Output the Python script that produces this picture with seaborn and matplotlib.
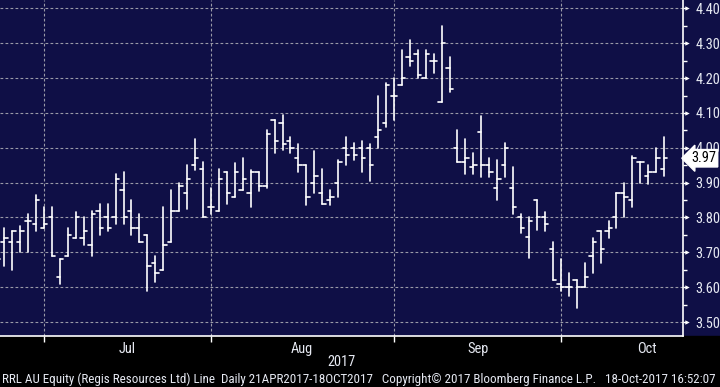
import numpy as np
import pandas as pd
import matplotlib
matplotlib.use("Agg")
import matplotlib.pyplot as plt
import matplotlib.transforms as mtransforms
from matplotlib import font_manager as fm
from matplotlib.patches import Rectangle
import seaborn as sns

# Bloomberg-like dark style
sns.set_theme(style="dark")

# pick a narrow font if one is installed
installed = {f.name for f in fm.fontManager.ttflist}
narrow = [n for n in ["Liberation Sans Narrow", "Roboto Condensed", "Open Sans Condensed",
                      "DejaVu Sans Condensed", "Arial Narrow"] if n in installed]
condensed_dejavu = any(f.name == "DejaVu Sans" and f.stretch in ("condensed", "semi-condensed")
                       for f in fm.fontManager.ttflist)
if narrow:
    plt.rcParams['font.family'] = [narrow[0], 'DejaVu Sans']
else:
    plt.rcParams['font.family'] = ['DejaVu Sans']
    if condensed_dejavu:
        plt.rcParams['font.stretch'] = 'condensed'

navy = "#0f0f46"
text_col = "#e6e9f2"
grid_col = "#9a9aa8"

# --- Data: daily OHLC bars (bar index 0 = last days of June 2017) ---
bar_idx = list(range(85))
opens = [3.69, 3.73, 3.73, 3.73, 3.79, 3.78, 3.77, 3.80, 3.63, 3.69,
         3.74, 3.74, 3.72, 3.82, 3.80, 3.80, 3.88, 3.82, 3.77, 3.75,
         3.67, 3.65, 3.73, 3.82, 3.87, 3.95, 3.94, 3.83, 3.82, 3.93,
         3.86, 3.88, 3.87, 3.93, 3.89, 4.08, 4.07, 4.02, 3.97, 3.95,
         3.90, 3.87, 3.85, 3.90, 4.00, 4.00, 4.00, 4.00, 4.03, 4.07,
         4.15, 4.18, 4.26, 4.27, 4.20, 4.25, 4.13, 4.23, 4.00, 3.96,
         3.945, 4.045, 3.95, 3.885, 3.95, 3.885, 3.80, 3.745, 3.85, 3.80,
         3.71, 3.61, 3.60, 3.62, 3.60, 3.69, 3.76, 3.76, 3.80, 3.87,
         3.85, 3.96, 3.92, 3.93, 3.94]
highs = [3.70, 3.77, 3.76, 3.775, 3.81, 3.865, 3.83, 3.83, 3.68, 3.77,
         3.815, 3.80, 3.82, 3.84, 3.84, 3.925, 3.93, 3.85, 3.81, 3.75,
         3.69, 3.83, 3.88, 3.90, 3.95, 4.025, 3.96, 3.885, 3.94, 3.93,
         3.955, 3.97, 3.935, 3.93, 4.05, 4.08, 4.095, 4.03, 4.01, 3.95,
         3.99, 3.94, 3.88, 3.965, 4.03, 4.015, 4.02, 4.01, 4.15, 4.185,
         4.20, 4.28, 4.31, 4.28, 4.28, 4.27, 4.35, 4.26, 4.05, 4.025,
         3.985, 4.09, 3.97, 3.965, 4.015, 3.945, 3.81, 3.80, 3.85, 3.815,
         3.73, 3.68, 3.64, 3.62, 3.67, 3.74, 3.76, 3.79, 3.87, 3.90,
         3.975, 3.96, 3.95, 4.00, 4.03]
lows = [3.66, 3.66, 3.65, 3.70, 3.70, 3.76, 3.77, 3.69, 3.61, 3.69,
        3.74, 3.72, 3.69, 3.75, 3.76, 3.78, 3.78, 3.75, 3.73, 3.59,
        3.615, 3.65, 3.73, 3.82, 3.825, 3.935, 3.80, 3.81, 3.82, 3.84,
        3.86, 3.88, 3.83, 3.875, 3.885, 3.985, 3.995, 3.985, 3.93, 3.835,
        3.87, 3.84, 3.835, 3.86, 3.95, 3.965, 3.93, 3.905, 4.00, 4.06,
        4.08, 4.18, 4.235, 4.20, 4.20, 4.215, 4.13, 4.16, 3.96, 3.925,
        3.925, 3.915, 3.915, 3.85, 3.915, 3.81, 3.755, 3.685, 3.765, 3.76,
        3.62, 3.59, 3.575, 3.54, 3.60, 3.64, 3.67, 3.74, 3.77, 3.80,
        3.83, 3.90, 3.895, 3.93, 3.92]
closes = [3.68, 3.74, 3.76, 3.76, 3.79, 3.85, 3.78, 3.69, 3.68, 3.75,
          3.80, 3.76, 3.81, 3.77, 3.77, 3.91, 3.80, 3.77, 3.73, 3.66,
          3.64, 3.72, 3.82, 3.89, 3.91, 3.97, 3.80, 3.83, 3.91, 3.87,
          3.93, 3.91, 3.93, 3.89, 4.04, 4.02, 4.01, 4.00, 3.95, 3.86,
          3.92, 3.84, 3.86, 3.96, 3.98, 3.98, 3.97, 3.95, 4.05, 4.18,
          4.15, 4.20, 4.25, 4.21, 4.27, 4.25, 4.30, 4.17, 3.96, 3.97,
          3.95, 3.95, 3.93, 3.91, 4.00, 3.83, 3.77, 3.79, 3.80, 3.78,
          3.62, 3.60, 3.60, 3.60, 3.63, 3.73, 3.71, 3.77, 3.87, 3.86,
          3.97, 3.96, 3.93, 3.97, 3.97]

month_labels = ["Jul", "Aug", "Sep", "Oct"]
month_start_bars = [6, 27, 50, 71]
month_label_pos = [16.4, 38.4, 60.6, 81.8]
price_ticks = [3.50, 3.60, 3.70, 3.80, 3.90, 4.00, 4.10, 4.20, 4.30, 4.40]
last_price = 3.97
year_label = "2017"
footer = ("RRL AU Equity (Regis Resources Ltd) Line  Daily 21APR2017-18OCT2017   "
          "Copyright\u00a9 2017 Bloomberg Finance L.P.   18-Oct-2017 16:52:07")

# Build OHLC segments (high-low line, open tick left, close tick right)
tick_w = 0.42
rows = []
for i, o, h, l, c in zip(bar_idx, opens, highs, lows, closes):
    rows += [(f"{i}hl", i, l), (f"{i}hl", i, h),
             (f"{i}o", i - tick_w, o), (f"{i}o", i, o),
             (f"{i}c", i, c), (f"{i}c", i + tick_w, c)]
seg = pd.DataFrame(rows, columns=["seg", "x", "price"])

W, H = 720, 387
fig = plt.figure(figsize=(W / 100, H / 100), dpi=100)
fig.patch.set_facecolor(navy)
fig.add_artist(Rectangle((0, 0), 1, 51 / H, transform=fig.transFigure,
                         color="black", zorder=-1))

# font size so that a price label is about 25 px wide (as on the terminal)
probe = fig.text(0, 0, "4.40", fontsize=10)
fig.canvas.draw()
lab_fs = min(10.5, 10 * 25 / probe.get_window_extent().width)
probe.remove()

ax = fig.add_axes([0, 51 / H, 683 / W, 336 / H])
ax.set_facecolor(navy)

sns.lineplot(data=seg, x="x", y="price", units="seg", estimator=None,
             sort=False, color="white", lw=1.2, ax=ax, legend=False)

ax.set_xlim(0.46, 86.37)
ax.set_ylim(3.46, 4.424)
ax.set_xlabel("")
ax.set_ylabel("")

# spines
for s in ["top", "left"]:
    ax.spines[s].set_visible(False)
for s in ["right", "bottom"]:
    ax.spines[s].set_visible(True)
    ax.spines[s].set_color("white")
    ax.spines[s].set_linewidth(1.2)

# y axis on the right
ax.yaxis.tick_right()
ax.set_yticks(price_ticks)
ax.set_yticklabels([f"{v:.2f}" for v in price_ticks])
minor_y = [(a + b) / 2 for a, b in zip(price_ticks[:-1], price_ticks[1:])]
ax.set_yticks(minor_y, minor=True)
ax.tick_params(axis="y", which="major", right=True, left=False, length=3,
               width=1, color="white", labelcolor=text_col, labelsize=lab_fs, pad=6)
ax.tick_params(axis="y", which="minor", right=True, left=False, length=3,
               width=1, color="white")

# triangle markers on the major ticks
trans = mtransforms.blended_transform_factory(ax.transAxes, ax.transData)
ax.scatter([1 + 4 / 683] * len(price_ticks), price_ticks, transform=trans,
           marker=">", s=10, color="white", clip_on=False, zorder=5, linewidths=0)

# x axis: month boundaries as major ticks, month names as minor labels
ax.set_xticks(month_start_bars)
ax.set_xticklabels([""] * len(month_start_bars))
ax.set_xticks(month_label_pos, minor=True)
ax.set_xticklabels(month_labels, minor=True)
ax.tick_params(axis="x", which="major", bottom=True, length=4, width=1,
               color="white")
ax.tick_params(axis="x", which="minor", bottom=True, length=0,
               labelcolor=text_col, labelsize=lab_fs, pad=4)

# dashed grid
ax.grid(False)
ax.yaxis.grid(True, which="major", color=grid_col, ls=(0, (2.5, 2.0)), lw=0.8)
ax.xaxis.grid(True, which="major", color=grid_col, ls=(0, (2.5, 2.0)), lw=0.8)
ax.set_axisbelow(True)

# last price flag
ax.text(1 + 8 / 683, last_price, f"{last_price:.2f}", transform=trans,
        ha="left", va="center", color="black", fontsize=lab_fs, clip_on=False,
        bbox=dict(boxstyle="larrow,pad=0.12", fc="white", ec="white"))

fig.text(341 / W, 1 - 362 / H, year_label, ha="center", va="center",
         color=text_col, fontsize=lab_fs)
ft = fig.text(2 / W, 1 - 379 / H, footer, ha="left", va="center",
              color=text_col, fontsize=9)

# fit footer to the figure width
fig.canvas.draw()
bb = ft.get_window_extent()
ft.set_fontsize(9 * 714 / bb.width)

fig.savefig("out.png", dpi=100, facecolor=fig.get_facecolor())
